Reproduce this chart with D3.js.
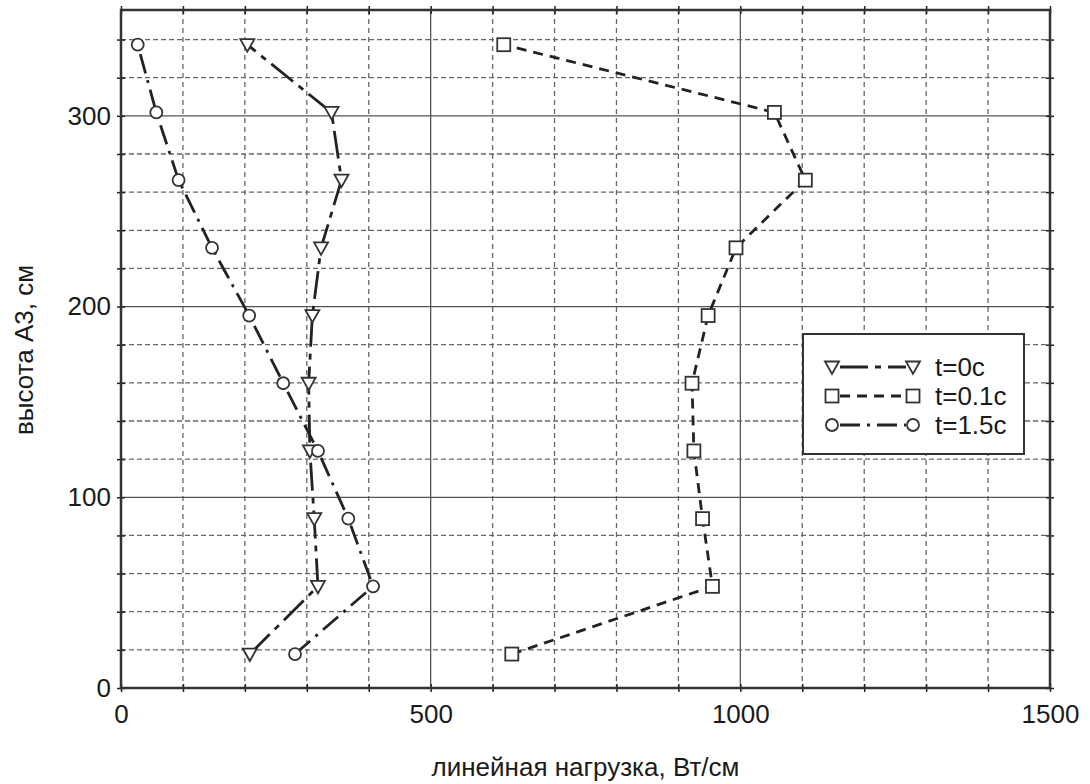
<!DOCTYPE html>
<html><head><meta charset="utf-8">
<script src="https://cdn.jsdelivr.net/npm/d3@7/dist/d3.min.js"></script>
<style>body{margin:0;background:#fff}svg{display:block}text{font-family:"Liberation Sans",Arial,sans-serif;fill:#1a1a1a}</style>
</head><body>
<svg id="c" width="1090" height="784"></svg>
<script>
const heights = [17.8, 53.3, 88.8, 124.3, 159.8, 195.3, 230.8, 266.3, 301.8, 337.3];
const load_t0 = [208, 318, 312, 305, 303, 309, 323, 356, 340, 204];
const load_t01 = [631, 955, 939, 925, 922, 948, 993, 1105, 1055, 618];
const load_t15 = [281, 407, 367, 318, 262, 207, 147, 93, 57, 27];
const seriesNames = ["t=0c", "t=0.1c", "t=1.5c"];
const xTickLabels = [0, 500, 1000, 1500];
const yTickLabels = [0, 100, 200, 300];

const svg = d3.select("#c");
const L = 121, R = 1050, T = 10, B = 688;
const x = d3.scaleLinear().domain([0, 1500]).range([L, R]);
const y = d3.scaleLinear().domain([0, 355.5]).range([B, T]);

// grid
const gx = d3.range(100, 1500, 100);
const gy = d3.range(20, 355, 20);
svg.append("g").selectAll("line").data(gx).join("line")
  .attr("x1", d => x(d)).attr("x2", d => x(d)).attr("y1", T).attr("y2", B)
  .attr("stroke", d => d % 500 === 0 ? "#555" : "#666")
  .attr("stroke-width", 1.3)
  .attr("stroke-dasharray", d => d % 500 === 0 ? null : "5,4");
svg.append("g").selectAll("line").data(gy).join("line")
  .attr("y1", d => y(d)).attr("y2", d => y(d)).attr("x1", L).attr("x2", R)
  .attr("stroke", d => d % 100 === 0 ? "#555" : "#666")
  .attr("stroke-width", 1.3)
  .attr("stroke-dasharray", d => d % 100 === 0 ? null : "5,3");

// axes with ticks crossing
const xb = d3.axisBottom(x).tickValues(d3.range(0, 1501, 100)).tickSize(4).tickFormat(d => xTickLabels.includes(d) ? d : "");
const xt = d3.axisTop(x).tickValues(d3.range(0, 1501, 100)).tickSize(4).tickFormat("");
const yl = d3.axisLeft(y).tickValues(d3.range(0, 341, 20)).tickSize(4).tickFormat(d => yTickLabels.includes(d) ? d : "");
const yr = d3.axisRight(y).tickValues(d3.range(0, 341, 20)).tickSize(4).tickFormat("");
function style(g){ g.select(".domain").remove(); g.selectAll("line").attr("stroke","#222").attr("stroke-width",1.5); }
const gB = svg.append("g").attr("transform", `translate(0,${B})`).call(xb).call(style);
gB.selectAll("text").attr("font-size", 26).attr("dy", "1.08em").attr("fill","#1a1a1a");
svg.append("g").attr("transform", `translate(0,${B})`).call(d3.axisTop(x).tickValues(d3.range(0,1501,100)).tickSize(4).tickFormat("")).call(style);
svg.append("g").attr("transform", `translate(0,${T})`).call(xt).call(style);
svg.append("g").attr("transform", `translate(0,${T})`).call(d3.axisBottom(x).tickValues(d3.range(0,1501,100)).tickSize(4).tickFormat("")).call(style);
const gL = svg.append("g").attr("transform", `translate(${L},0)`).call(yl).call(style);
gL.selectAll("text").attr("font-size", 26).attr("x", -10).attr("fill","#1a1a1a");
svg.append("g").attr("transform", `translate(${L},0)`).call(d3.axisRight(y).tickValues(d3.range(0,341,20)).tickSize(4).tickFormat("")).call(style);
svg.append("g").attr("transform", `translate(${R},0)`).call(yr).call(style);
svg.append("g").attr("transform", `translate(${R},0)`).call(d3.axisLeft(y).tickValues(d3.range(0,341,20)).tickSize(4).tickFormat("")).call(style);

// frame
svg.append("rect").attr("x", L).attr("y", T).attr("width", R - L).attr("height", B - T)
  .attr("fill", "none").attr("stroke", "#333").attr("stroke-width", 2.5);

// series
const series = [
  {name: seriesNames[0], vals: load_t0, dash: "28,7,6,7", sym: "tri"},
  {name: seriesNames[1], vals: load_t01, dash: "10,7", sym: "sq"},
  {name: seriesNames[2], vals: load_t15, dash: "20,7,3,7", sym: "circ"}
];
const line = d3.line().x(d => x(d[0])).y(d => y(d[1]));
function drawMarker(g, sym, cx, cy){
  if (sym === "tri") {
    g.append("path").attr("d", `M${cx-7},${cy-5.5}L${cx+7},${cy-5.5}L${cx},${cy+7}Z`)
      .attr("fill", "#fff").attr("stroke", "#333").attr("stroke-width", 1.8);
  } else if (sym === "sq") {
    g.append("rect").attr("x", cx-6.5).attr("y", cy-6.5).attr("width", 13).attr("height", 13)
      .attr("fill", "#fff").attr("stroke", "#333").attr("stroke-width", 1.8);
  } else {
    g.append("circle").attr("cx", cx).attr("cy", cy).attr("r", 6)
      .attr("fill", "#fff").attr("stroke", "#333").attr("stroke-width", 1.8);
  }
}
series.forEach(s => {
  const pts = s.vals.map((v, i) => [v, heights[i]]);
  svg.append("path").datum(pts).attr("d", line).attr("fill", "none")
    .attr("stroke", "#222").attr("stroke-width", 2.8).attr("stroke-dasharray", s.dash);
  const g = svg.append("g");
  pts.forEach(p => drawMarker(g, s.sym, x(p[0]), y(p[1])));
});

// legend
const lg = svg.append("g");
lg.append("rect").attr("x", 803).attr("y", 334).attr("width", 221).attr("height", 120)
  .attr("fill", "#fff").attr("stroke", "#333").attr("stroke-width", 2);
series.forEach((s, i) => {
  const cy = 367 + i * 29;
  lg.append("line").attr("x1", 840).attr("x2", 906).attr("y1", cy).attr("y2", cy)
    .attr("stroke", "#222").attr("stroke-width", 2.8).attr("stroke-dasharray", s.dash);
  drawMarker(lg, s.sym, 832, cy);
  drawMarker(lg, s.sym, 913, cy);
  lg.append("text").attr("x", 935).attr("y", cy + 9).attr("font-size", 26).text(s.name);
});

// axis titles
svg.append("text").attr("x", (L + R) / 2).attr("y", 776).attr("text-anchor", "middle")
  .attr("font-size", 26).text("линейная нагрузка, Вт/см");
svg.append("text").attr("transform", `translate(33,350) rotate(-90)`).attr("text-anchor", "middle")
  .attr("font-size", 26).text("высота А3, см");
</script>
</body></html>
